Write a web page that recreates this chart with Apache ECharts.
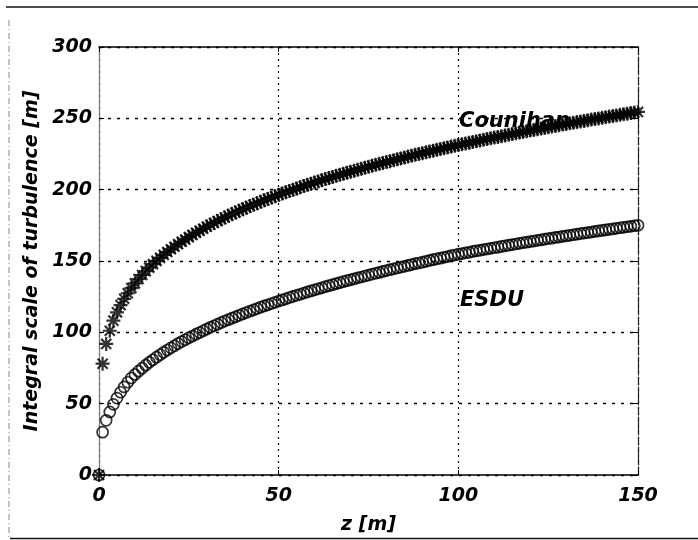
<!DOCTYPE html>
<html>
<head>
<meta charset="utf-8">
<script src="https://cdn.jsdelivr.net/npm/echarts@6/dist/echarts.min.js"></script>
<style>
html, body { margin: 0; padding: 0; background: #fff; }
#chart { width: 698px; height: 540px; }
</style>
</head>
<body>
<div id="chart"></div>
<script>
// heights z [m]
const heights = [
  0, 1, 2, 3, 4, 5, 6, 7, 8, 9, 10, 11, 12, 13, 14, 15, 16, 17, 18, 19, 20,
  21, 22, 23, 24, 25, 26, 27, 28, 29, 30, 31, 32, 33, 34, 35, 36, 37, 38, 39, 40,
  41, 42, 43, 44, 45, 46, 47, 48, 49, 50, 51, 52, 53, 54, 55, 56, 57, 58, 59, 60,
  61, 62, 63, 64, 65, 66, 67, 68, 69, 70, 71, 72, 73, 74, 75, 76, 77, 78, 79, 80,
  81, 82, 83, 84, 85, 86, 87, 88, 89, 90, 91, 92, 93, 94, 95, 96, 97, 98, 99, 100,
  101, 102, 103, 104, 105, 106, 107, 108, 109, 110, 111, 112, 113, 114, 115, 116, 117, 118, 119, 120,
  121, 122, 123, 124, 125, 126, 127, 128, 129, 130, 131, 132, 133, 134, 135, 136, 137, 138, 139, 140,
  141, 142, 143, 144, 145, 146, 147, 148, 149, 150
];

// Counihan (*)
const counihan = [
  0, 78.0, 91.9, 101.1, 108.2, 114.0, 119.1, 123.5, 127.4, 131.0, 134.3,
  137.4, 140.2, 142.9, 145.4, 147.8, 150.1, 152.2, 154.3, 156.3, 158.2,
  160.0, 161.8, 163.5, 165.1, 166.7, 168.3, 169.8, 171.2, 172.6, 174.1,
  175.4, 176.7, 178.0, 179.3, 180.5, 181.7, 182.9, 184.0, 185.2, 186.3,
  187.4, 188.5, 189.5, 190.5, 191.5, 192.5, 193.5, 194.5, 195.4, 196.4,
  197.3, 198.2, 199.1, 199.9, 200.8, 201.7, 202.5, 203.4, 204.2, 205.0,
  205.8, 206.6, 207.4, 208.1, 208.9, 209.7, 210.4, 211.1, 211.9, 212.6,
  213.3, 214.0, 214.7, 215.4, 216.1, 216.8, 217.4, 218.1, 218.7, 219.4,
  220.0, 220.7, 221.3, 221.9, 222.6, 223.2, 223.8, 224.4, 225.0, 225.6,
  226.2, 226.8, 227.3, 227.9, 228.5, 229.0, 229.6, 230.2, 230.7, 231.3,
  231.8, 232.3, 232.9, 233.4, 233.9, 234.5, 235.0, 235.5, 236.0, 236.5,
  237.0, 237.5, 238.0, 238.5, 239.0, 239.5, 240.0, 240.5, 241.0, 241.4,
  241.9, 242.4, 242.8, 243.3, 243.8, 244.2, 244.7, 245.1, 245.6, 246.0,
  246.5, 246.9, 247.4, 247.8, 248.2, 248.7, 249.1, 249.5, 249.9, 250.4,
  250.8, 251.2, 251.6, 252.0, 252.5, 252.9, 253.3, 253.7, 254.1, 254.5
];

// ESDU (o)
const esdu = [
  0, 30.0, 38.3, 44.2, 49.5, 53.9, 58.0, 61.7, 65.0, 68.0, 70.5,
  72.8, 74.9, 77.0, 79.0, 80.8, 82.6, 84.3, 86.0, 87.6, 89.1,
  90.6, 92.1, 93.5, 94.8, 96.2, 97.4, 98.7, 99.9, 101.1, 102.3,
  103.5, 104.6, 105.7, 106.8, 107.9, 108.9, 109.9, 110.9, 111.9, 112.9,
  113.9, 114.8, 115.7, 116.7, 117.6, 118.5, 119.3, 120.2, 121.0, 121.9,
  122.7, 123.5, 124.4, 125.2, 126.0, 126.7, 127.5, 128.3, 129.0, 129.8,
  130.5, 131.2, 132.0, 132.7, 133.4, 134.1, 134.8, 135.5, 136.2, 136.8,
  137.5, 138.2, 138.8, 139.5, 140.1, 140.8, 141.4, 142.0, 142.7, 143.3,
  143.9, 144.5, 145.1, 145.7, 146.3, 146.9, 147.5, 148.1, 148.6, 149.2,
  149.8, 150.4, 150.9, 151.5, 152.0, 152.6, 153.1, 153.7, 154.2, 154.8,
  155.2, 155.7, 156.1, 156.7, 157.1, 157.5, 158.0, 158.4, 158.9, 159.3,
  159.7, 160.2, 160.6, 161.1, 161.5, 161.9, 162.4, 162.8, 163.2, 163.6,
  164.0, 164.5, 164.8, 165.3, 165.7, 166.0, 166.5, 166.8, 167.3, 167.6,
  168.0, 168.4, 168.8, 169.2, 169.6, 169.9, 170.3, 170.7, 171.1, 171.4,
  171.8, 172.2, 172.5, 172.9, 173.3, 173.6, 174.0, 174.3, 174.7, 175.0
];

const labelFont = {
  color: '#000',
  fontFamily: 'DejaVu Sans',
  fontSize: 19,
  fontWeight: 'bold',
  fontStyle: 'italic'
};

const myChart = echarts.init(document.getElementById('chart'), null, { renderer: 'canvas' });

// matlab-like '*' marker
const starPath = 'path://M0,-1L0,1M-1,0L1,0M-0.72,-0.72L0.72,0.72M-0.72,0.72L0.72,-0.72';

const option = {
  animation: false,
  backgroundColor: '#fff',
  grid: { left: 99, right: 60, top: 47, bottom: 62 },
  xAxis: [
    {
      type: 'value',
      min: 0,
      max: 150,
      interval: 50,
      position: 'bottom',
      name: 'z [m]',
      nameLocation: 'middle',
      nameGap: 41,
      nameTextStyle: labelFont,
      axisLine: { show: true, onZero: false, lineStyle: { color: '#000', width: 1.5 } },
      axisTick: { show: true, inside: true, length: 5, lineStyle: { color: '#000' } },
      axisLabel: Object.assign({ margin: 12 }, labelFont),
      splitLine: { show: true, lineStyle: { color: '#000', type: [2, 4], width: 1.2 } }
    },
    {
      type: 'value',
      min: 0,
      max: 150,
      interval: 50,
      position: 'top',
      axisLine: { show: true, onZero: false, lineStyle: { color: '#000', width: 1.5 } },
      axisTick: { show: true, inside: true, length: 5, lineStyle: { color: '#000' } },
      axisLabel: { show: false },
      splitLine: { show: false }
    }
  ],
  yAxis: [
    {
      type: 'value',
      min: 0,
      max: 300,
      interval: 50,
      position: 'left',
      name: 'Integral scale of turbulence [m]',
      nameLocation: 'middle',
      nameGap: 48,
      nameTextStyle: labelFont,
      axisLine: { show: true, onZero: false, lineStyle: { color: '#777', width: 1.2 } },
      axisTick: { show: true, inside: true, length: 5, lineStyle: { color: '#000' } },
      axisLabel: Object.assign({ margin: 7 }, labelFont),
      splitLine: { show: true, lineStyle: { color: '#000', type: [3, 6], width: 1.3 } }
    },
    {
      type: 'value',
      min: 0,
      max: 300,
      interval: 50,
      position: 'right',
      axisLine: { show: true, onZero: false, lineStyle: { color: '#222', width: 1.2, type: [8, 2] } },
      axisTick: { show: true, inside: true, length: 5, lineStyle: { color: '#000' } },
      axisLabel: { show: false },
      splitLine: { show: false }
    }
  ],
  graphic: [
    // scanned page frame
    { type: 'line', shape: { x1: 6, y1: 7, x2: 698, y2: 7 }, style: { stroke: '#111', lineWidth: 1.5 } },
    { type: 'line', shape: { x1: 9, y1: 20, x2: 9, y2: 538 }, style: { stroke: '#888', lineWidth: 1, lineDash: [6, 3, 1, 3] } },
    { type: 'line', shape: { x1: 10, y1: 538.5, x2: 698, y2: 538.5 }, style: { stroke: '#111', lineWidth: 1.5 } },
    // curve names (drawn under the markers)
    {
      type: 'text', z: 0, x: 459, y: 122,
      style: { text: 'Counihan', fill: '#000', font: 'italic bold 21px "DejaVu Sans"', verticalAlign: 'middle' }
    },
    {
      type: 'text', z: 0, x: 460, y: 301,
      style: { text: 'ESDU', fill: '#000', font: 'italic bold 21px "DejaVu Sans"', verticalAlign: 'middle' }
    }
  ],
  series: [
    {
      name: 'Counihan',
      type: 'scatter',
      z: 3,
      symbol: starPath,
      symbolSize: 14,
      data: heights.map((z, i) => [z, counihan[i]]),
      itemStyle: { color: 'rgba(0,0,0,0)', borderColor: '#000', borderWidth: 2.2 },
      emphasis: { disabled: true },
      silent: true
    },
    {
      name: 'ESDU',
      type: 'scatter',
      z: 3,
      symbol: 'circle',
      symbolSize: 11,
      data: heights.map((z, i) => [z, esdu[i]]),
      itemStyle: { color: 'rgba(0,0,0,0)', borderColor: '#000', borderWidth: 1.7 },
      emphasis: { disabled: true },
      silent: true
    }
  ]
};

myChart.setOption(option);
</script>
</body>
</html>
